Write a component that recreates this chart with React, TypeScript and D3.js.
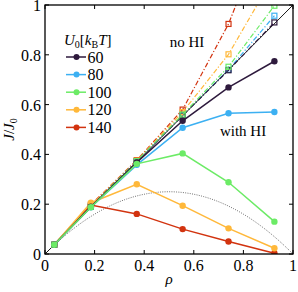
import React from "react";
import * as d3 from "d3";

const rho = [0.037, 0.185, 0.37, 0.555, 0.74, 0.925];
const potentials = [60, 80, 100, 120, 140];
const colors = ["#2e1a3d", "#3cb0f2", "#6ceb66", "#ffb83a", "#d2330f"];

// with hydrodynamic interactions (solid, filled circles)
const withHI = [
  [0.037, 0.19, 0.368, 0.535, 0.669, 0.774],
  [0.037, 0.188, 0.358, 0.507, 0.565, 0.57],
  [0.037, 0.188, 0.362, 0.404, 0.288, 0.13],
  [0.037, 0.206, 0.28, 0.194, 0.103, 0.023],
  [0.037, 0.197, 0.161, 0.1, 0.05, 0.003],
];

// without hydrodynamic interactions (dash-dot, open squares)
const noHI = [
  [0.037, 0.19, 0.372, 0.556, 0.738, 0.93],
  [0.037, 0.19, 0.372, 0.558, 0.74, 0.957],
  [0.037, 0.19, 0.373, 0.56, 0.752, 0.997],
  [0.037, 0.195, 0.375, 0.57, 0.802, 1.12],
  [0.037, 0.198, 0.377, 0.58, 0.924, 1.39],
];

const ticks = [0, 0.2, 0.4, 0.6, 0.8, 1];
const tickLabels = ["0", "0.2", "0.4", "0.6", "0.8", "1"];

const tasep = (r: number) => r * (1 - r);

const W = 298;
const H = 292;
const m = { left: 45, right: 5, top: 5, bottom: 38 };
const font = "'Liberation Serif', 'Times New Roman', serif";
const drawOrder = [4, 3, 1, 0, 2];

export default function App() {
  const x = d3.scaleLinear().domain([0, 1]).range([m.left, W - m.right]);
  const y = d3.scaleLinear().domain([0, 1]).range([H - m.bottom, m.top]);
  const line = d3
    .line<number>()
    .x((_, i) => x(rho[i]))
    .y((d) => y(d));
  const theory = d3
    .line<number>()
    .x((r) => x(r))
    .y((r) => y(tasep(r)))(d3.range(0, 1.0001, 0.01));

  const x0 = x(0), x1 = x(1), y0 = y(0), y1 = y(1);

  return (
    <svg
      width={W}
      height={H}
      style={{ position: "absolute", left: 0, top: 0, display: "block", fontFamily: font }}
    >
      <defs>
        <clipPath id="plot">
          <rect x={x0} y={y1} width={x1 - x0} height={y0 - y1} />
        </clipPath>
      </defs>
      <g clipPath="url(#plot)">
        <path d={theory ?? ""} fill="none" stroke="#333" strokeWidth={0.7} strokeDasharray="1,1.3" />
        <line x1={x(0)} y1={y(0)} x2={x(1)} y2={y(1)} stroke="#000" strokeWidth={0.9} />
        {drawOrder.map((k) => (
          <g key={"n" + k}>
            <path
              d={line(noHI[k]) ?? ""}
              fill="none"
              stroke={colors[k]}
              strokeWidth={1.2}
              strokeDasharray="5,2,1.2,2"
            />
            {noHI[k].map((v, i) => (
              <rect
                key={i}
                x={x(rho[i]) - 2.5}
                y={y(v) - 2.5}
                width={5}
                height={5}
                fill="none"
                stroke={colors[k]}
                strokeWidth={1.2}
              />
            ))}
          </g>
        ))}
        {drawOrder.map((k) => (
          <g key={"w" + k}>
            <path d={line(withHI[k]) ?? ""} fill="none" stroke={colors[k]} strokeWidth={1.5} />
            {withHI[k].map((v, i) => (
              <circle key={i} cx={x(rho[i])} cy={y(v)} r={3.2} fill={colors[k]} />
            ))}
          </g>
        ))}
      </g>

      {/* frame and inward ticks */}
      <rect x={x0} y={y1} width={x1 - x0} height={y0 - y1} fill="none" stroke="#000" strokeWidth={1.3} />
      {ticks.map((t, i) => (
        <g key={i}>
          <line x1={x(t)} x2={x(t)} y1={y0} y2={y0 - 4} stroke="#000" strokeWidth={1} />
          <line x1={x(t)} x2={x(t)} y1={y1} y2={y1 + 4} stroke="#000" strokeWidth={1} />
          <line x1={x0} x2={x0 + 4} y1={y(t)} y2={y(t)} stroke="#000" strokeWidth={1} />
          <line x1={x1} x2={x1 - 4} y1={y(t)} y2={y(t)} stroke="#000" strokeWidth={1} />
          <text x={x(t)} y={y0 + 17} fontSize={16} textAnchor="middle" fill="#000">
            {tickLabels[i]}
          </text>
          <text x={x0 - 4} y={y(t) + 6} fontSize={16} textAnchor="end" fill="#000">
            {tickLabels[i]}
          </text>
        </g>
      ))}

      <text x={(x0 + x1) / 2} y={284} fontSize={15} fontStyle="italic" textAnchor="middle">
        ρ
      </text>
      <text transform={`translate(14,${(y0 + y1) / 2}) rotate(-90)`} fontSize={15} textAnchor="middle">
        <tspan fontStyle="italic">J</tspan>/<tspan fontStyle="italic">J</tspan>
        <tspan fontSize={10} dy={3}>0</tspan>
      </text>

      <text x={187} y={47} fontSize={15} textAnchor="middle">no HI</text>
      <text x={243} y={136} fontSize={15} textAnchor="middle">with HI</text>

      {/* legend */}
      <text x={64} y={45} fontSize={15}>
        <tspan fontStyle="italic">U</tspan>
        <tspan fontSize={10} dy={3}>0</tspan>
        <tspan dy={-3}>[</tspan>
        <tspan fontStyle="italic">k</tspan>
        <tspan fontSize={10} dy={3}>B</tspan>
        <tspan dy={-3} fontStyle="italic">T</tspan>
        <tspan>]</tspan>
      </text>
      {potentials.map((p, k) => {
        const ly = 57 + k * 17.6;
        return (
          <g key={p}>
            <line x1={66} x2={86} y1={ly} y2={ly} stroke={colors[k]} strokeWidth={1.5} />
            <circle cx={76.5} cy={ly} r={3} fill={colors[k]} />
            <text x={87.5} y={ly + 5.5} fontSize={16}>{p}</text>
          </g>
        );
      })}
    </svg>
  );
}
